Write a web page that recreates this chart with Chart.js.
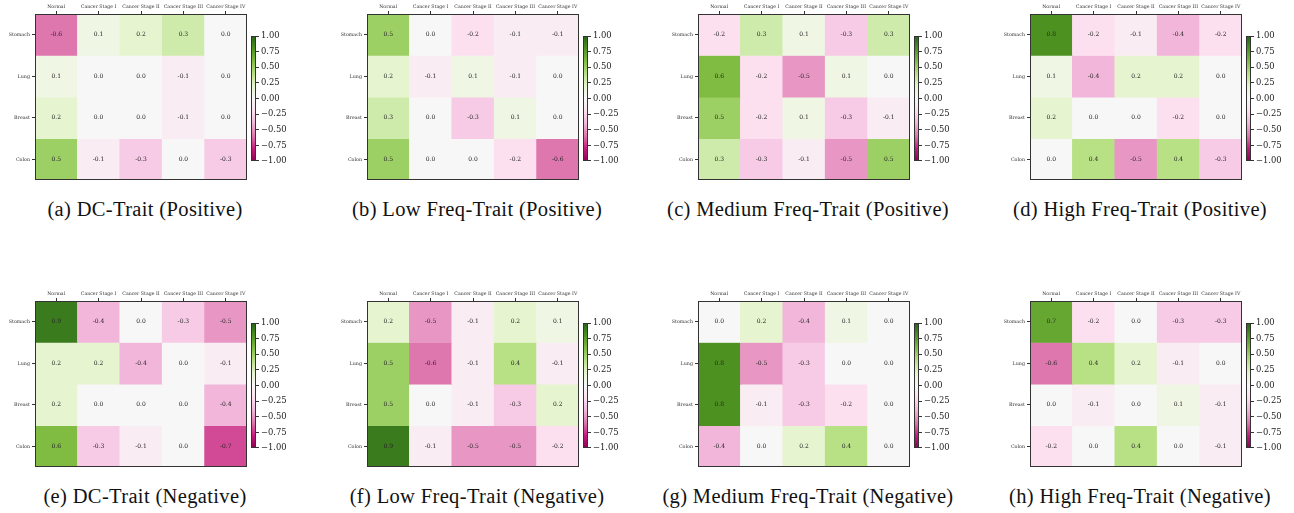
<!DOCTYPE html>
<html>
<head>
<meta charset="utf-8">
<script src="https://cdn.jsdelivr.net/npm/chart.js@4.4.1/dist/chart.umd.min.js"></script>
<style>
  html, body { margin: 0; padding: 0; background: #fff; }
  #wrap { position: relative; width: 1294px; height: 513px; overflow: hidden; }
  canvas { position: absolute; }
  .cap { position: absolute; width: 320px; text-align: center; font-family: "Liberation Serif", "Times New Roman", serif;
         font-size: 20.5px; letter-spacing: 0.35px; color: #111; line-height: 20px; white-space: nowrap; }
</style>
</head>
<body>
<div id="wrap"></div>
<script>
/* 8 PiYG heatmaps (rows = organ, cols = stage) + colorbars */

const rows = ['Stomach', 'Lung', 'Breast', 'Colon'];
const cols = ['Normal', 'Cancer Stage I', 'Cancer Stage II', 'Cancer Stage III', 'Cancer Stage IV'];
const cbarTicks = [-1, -0.75, -0.5, -0.25, 0, 0.25, 0.5, 0.75, 1];

const dcPos   = [[-0.6, 0.1, 0.2, 0.3, 0.0], [0.1, 0.0, 0.0, -0.1, 0.0], [0.2, 0.0, 0.0, -0.1, 0.0], [0.5, -0.1, -0.3, 0.0, -0.3]];
const lowPos  = [[0.5, 0.0, -0.2, -0.1, -0.1], [0.2, -0.1, 0.1, -0.1, 0.0], [0.3, 0.0, -0.3, 0.1, 0.0], [0.5, 0.0, 0.0, -0.2, -0.6]];
const medPos  = [[-0.2, 0.3, 0.1, -0.3, 0.3], [0.6, -0.2, -0.5, 0.1, 0.0], [0.5, -0.2, 0.1, -0.3, -0.1], [0.3, -0.3, -0.1, -0.5, 0.5]];
const highPos = [[0.8, -0.2, -0.1, -0.4, -0.2], [0.1, -0.4, 0.2, 0.2, 0.0], [0.2, 0.0, 0.0, -0.2, 0.0], [0.0, 0.4, -0.5, 0.4, -0.3]];
const dcNeg   = [[0.9, -0.4, 0.0, -0.3, -0.5], [0.2, 0.2, -0.4, 0.0, -0.1], [0.2, 0.0, 0.0, 0.0, -0.4], [0.6, -0.3, -0.1, 0.0, -0.7]];
const lowNeg  = [[0.2, -0.5, -0.1, 0.2, 0.1], [0.5, -0.6, -0.1, 0.4, -0.1], [0.5, 0.0, -0.1, -0.3, 0.2], [0.9, -0.1, -0.5, -0.5, -0.2]];
const medNeg  = [[0.0, 0.2, -0.4, 0.1, 0.0], [0.8, -0.5, -0.3, 0.0, 0.0], [0.8, -0.1, -0.3, -0.2, 0.0], [-0.4, 0.0, 0.2, 0.4, 0.0]];
const highNeg = [[0.7, -0.2, 0.0, -0.3, -0.3], [-0.6, 0.4, 0.2, -0.1, 0.0], [0.0, -0.1, 0.0, 0.1, -0.1], [-0.2, 0.0, 0.4, 0.0, -0.1]];

const panels = [dcPos, lowPos, medPos, highPos, dcNeg, lowNeg, medNeg, highNeg];
const captions = [
  '(a) DC-Trait (Positive)', '(b) Low Freq-Trait (Positive)', '(c) Medium Freq-Trait (Positive)', '(d) High Freq-Trait (Positive)',
  '(e) DC-Trait (Negative)', '(f) Low Freq-Trait (Negative)', '(g) Medium Freq-Trait (Negative)', '(h) High Freq-Trait (Negative)',
];

// matplotlib PiYG control colours
const PIYG = ['#8e0152', '#c51b7d', '#de77ae', '#f1b6da', '#fde0ef', '#f7f7f7', '#e6f5d0', '#b8e186', '#7fbc41', '#4d9221', '#276419'];
const rgbOf = (h) => [1, 3, 5].map((i) => parseInt(h.slice(i, i + 2), 16));

function piyg(v) {
  const t = Math.max(0, Math.min(1, (v + 1) / 2)) * 10;
  const i = Math.min(9, Math.floor(t));
  const f = t - i;
  const a = rgbOf(PIYG[i]), b = rgbOf(PIYG[i + 1]);
  const c = a.map((x, k) => Math.round(x + (b[k] - x) * f));
  return `rgb(${c[0]},${c[1]},${c[2]})`;
}

const SERIF = '"DejaVu Serif", serif';
const INK = '#333';
const AREA_L = [35, 367, 698, 1030];
const AREA_T = [14, 301];
const AREA_W = 212, AREA_H = 169;
const Y_AX = 35, X_AX = 14;

const outline = {
  id: 'outline',
  afterDraw(chart) {
    const a = chart.chartArea, c = chart.ctx;
    c.save();
    c.strokeStyle = INK; c.lineWidth = 1;
    c.strokeRect(Math.round(a.left) + 0.5, Math.round(a.top) + 0.5, Math.round(a.right - a.left) - 1, Math.round(a.bottom - a.top) - 1);
    c.restore();
  },
};

const cellText = {
  id: 'cellText',
  afterDatasetsDraw(chart) {
    const c = chart.ctx;
    c.save();
    c.font = '6px ' + SERIF; c.fillStyle = '#262626';
    c.textAlign = 'center'; c.textBaseline = 'middle';
    chart.data.datasets.forEach((ds, i) => {
      chart.getDatasetMeta(i).data.forEach((el, j) => {
        const p = el.getCenterPoint();
        c.fillText(ds.vals[j].toFixed(1), p.x, p.y);
      });
    });
    c.restore();
  },
};

function addCanvas(left, top, w, h) {
  const cv = document.createElement('canvas');
  cv.width = w; cv.height = h;
  cv.style.left = left + 'px'; cv.style.top = top + 'px';
  cv.style.width = w + 'px'; cv.style.height = h + 'px';
  document.getElementById('wrap').appendChild(cv);
  return cv;
}

function heatmap(vals, left, top) {
  const cv = addCanvas(left - Y_AX, top - X_AX, Y_AX + AREA_W + 2, X_AX + AREA_H + 2);
  new Chart(cv, {
    type: 'bar',
    data: {
      labels: cols,
      datasets: rows.map((r, i) => ({
        data: cols.map(() => [i, i + 1]),
        vals: vals[i],
        backgroundColor: vals[i].map(piyg),
        borderWidth: 0,
        grouped: false,
        barPercentage: 1,
        categoryPercentage: 1,
      })),
    },
    options: {
      responsive: false, animation: false,
      layout: { padding: { top: 0, left: 0, right: 2, bottom: 2 } },
      plugins: { legend: { display: false }, tooltip: { enabled: false } },
      scales: {
        x: {
          position: 'top',
          afterFit: (s) => { s.height = X_AX; },
          grid: { drawOnChartArea: false, offset: false, tickLength: 3, color: INK },
          border: { display: false },
          ticks: { color: INK, font: { family: SERIF, size: 4.7 }, padding: 1, maxRotation: 0, autoSkip: false },
        },
        y: {
          min: 0, max: rows.length, reverse: true,
          afterFit: (s) => { s.width = Y_AX; },
          afterBuildTicks: (s) => { s.ticks = rows.map((_, i) => ({ value: i + 0.5 })); },
          grid: { drawOnChartArea: false, tickLength: 3, color: INK },
          border: { display: false },
          ticks: { color: INK, font: { family: SERIF, size: 4.8 }, padding: 2, callback: (v, i) => rows[i] },
        },
      },
    },
    plugins: [cellText, outline],
  });
}

function colorbar(left, top) {
  const cv = addCanvas(left, top - 6, 5 + 36, 127 + 12);
  new Chart(cv, {
    type: 'bar',
    data: {
      labels: [''],
      datasets: [{
        data: [[-1, 1]],
        borderWidth: 0, barPercentage: 1, categoryPercentage: 1,
        backgroundColor: (ctx) => {
          const a = ctx.chart.chartArea;
          if (!a) return PIYG[5];
          const g = ctx.chart.ctx.createLinearGradient(0, a.bottom, 0, a.top);
          PIYG.forEach((c, i) => g.addColorStop(i / 10, c));
          return g;
        },
      }],
    },
    options: {
      responsive: false, animation: false,
      layout: { padding: { top: 6, bottom: 6, left: 0, right: 0 } },
      plugins: { legend: { display: false }, tooltip: { enabled: false } },
      scales: {
        x: { display: false },
        y: {
          position: 'right', min: -1, max: 1,
          afterFit: (s) => { s.width = 36; },
          afterBuildTicks: (s) => { s.ticks = cbarTicks.map((v) => ({ value: v })); },
          grid: { drawOnChartArea: false, tickLength: 3, color: INK },
          border: { display: false },
          ticks: { color: '#222', font: { family: SERIF, size: 8.4 }, padding: 2,
                   callback: (v) => v.toFixed(2).replace('-', '\u2212') },
        },
      },
    },
    plugins: [outline],
  });
}

panels.forEach((vals, k) => {
  const col = k % 4, row = Math.floor(k / 4);
  const L = AREA_L[col], T = AREA_T[row];
  heatmap(vals, L, T);
  colorbar(L + 216, T + 21);
  const cap = document.createElement('div');
  cap.className = 'cap';
  cap.textContent = captions[k];
  cap.style.left = (L + AREA_W / 2 + 4 - 160) + 'px';
  cap.style.top = (T + 185) + 'px';
  document.getElementById('wrap').appendChild(cap);
});
</script>
</body>
</html>
